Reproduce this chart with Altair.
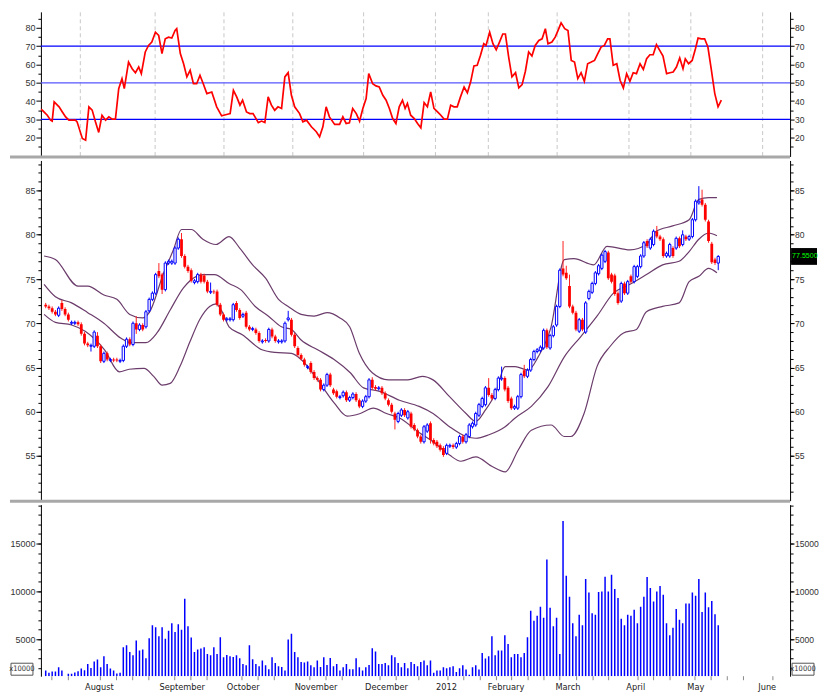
import altair as alt
import pandas as pd

# ---------------- data ----------------
# x positions are trading-day indices; month boundaries at these indices
month_pos = [11.84, 34.86, 55.68, 76.68, 98.48, 120.4, 136.44, 157.35, 179.27, 198.14, 220.06]
month_names = ["August", "September", "October", "November", "December", "2012",
               "February", "March", "April", "May", "June"]
week_ticks = [1.9, 7.0, 16.9, 21.9, 26.9, 31.9, 39.9, 44.9, 49.9, 60.7, 65.7, 70.7,
              81.7, 86.7, 91.7, 103.4, 108.4, 115.4, 124.4, 129.3, 134.4, 139.4, 144.1,
              149.2, 154.1, 159.0, 164.2, 169.3, 174.1, 183.2, 188.0, 193.1, 200.8,
              205.8, 210.8, 215.8, 224.9]

opens = [72.1, 71.9, 71.7, 71.3, 70.9, 72.3, 71.6, 71.0, 70.0, 70.0,
         70.1, 69.9, 68.8, 67.7, 67.4, 67.4, 68.6, 67.4, 65.7, 66.6,
         65.8, 65.9, 65.9, 65.7, 65.8, 67.4, 68.2, 67.6, 70.0, 69.3,
         69.8, 69.6, 71.4, 72.7, 73.4, 75.9, 75.5, 73.8, 76.8, 76.8,
         76.8, 78.5, 79.5, 77.6, 76.4, 76.0, 74.6, 74.7, 75.5, 75.4,
         74.7, 73.5, 73.6, 73.6, 72.1, 71.0, 70.4, 70.4, 70.4, 72.3,
         71.5, 70.8, 71.2, 69.6, 69.3, 69.3, 68.9, 67.9, 68.1, 68.0,
         69.3, 68.5, 67.9, 67.9, 68.0, 70.4, 70.4, 68.7, 67.2, 66.4,
         65.9, 65.0, 65.5, 64.5, 63.8, 63.6, 62.5, 63.0, 64.2, 62.5,
         62.3, 61.6, 61.8, 62.2, 61.3, 61.6, 62.0, 61.3, 60.6, 61.2,
         61.7, 63.6, 62.8, 62.6, 62.7, 62.1, 61.3, 60.8, 59.8, 58.9,
         59.6, 60.2, 59.3, 59.8, 58.5, 57.9, 57.2, 56.6, 57.8, 58.7,
         56.8, 56.6, 56.2, 55.9, 55.3, 56.1, 56.2, 56.0, 56.4, 57.2,
         56.6, 57.2, 58.3, 58.5, 59.6, 60.6, 60.8, 62.7, 61.9, 61.5,
         62.5, 63.7, 63.8, 62.7, 61.5, 60.4, 60.4, 61.7, 64.7, 64.0,
         64.7, 65.9, 66.8, 66.9, 67.2, 69.2, 67.2, 68.6, 69.8, 71.9,
         76.2, 75.7, 74.2, 71.9, 71.2, 69.1, 70.4, 69.0, 72.8, 73.5,
         74.5, 75.6, 76.2, 77.0, 78.0, 75.5, 75.4, 73.4, 72.5, 74.5,
         73.4, 75.3, 74.7, 75.3, 76.4, 77.6, 79.3, 78.5, 78.9, 80.4,
         79.8, 79.5, 77.6, 77.6, 78.5, 78.5, 79.6, 78.9, 79.8, 79.5,
         79.8, 81.7, 83.6, 84.0, 83.4, 81.5, 79.0, 77.2, 76.8]

closes = [71.9, 71.7, 71.3, 71.0, 71.7, 71.6, 71.0, 70.4, 70.1, 70.1,
          69.9, 68.8, 67.7, 67.5, 67.5, 69.0, 67.4, 65.7, 66.6, 65.9,
          65.9, 65.8, 65.8, 65.8, 67.4, 68.2, 67.6, 70.0, 69.3, 69.8,
          69.3, 71.3, 72.7, 73.4, 75.5, 75.3, 73.8, 76.8, 77.0, 77.0,
          78.5, 79.5, 77.6, 76.4, 75.9, 74.8, 74.8, 75.5, 74.7, 74.7,
          73.6, 73.6, 73.5, 72.1, 71.0, 70.4, 70.5, 70.5, 72.1, 71.5,
          70.6, 71.0, 69.6, 69.3, 69.4, 68.9, 68.0, 68.0, 68.0, 69.3,
          68.5, 68.0, 68.0, 68.0, 70.0, 70.6, 68.7, 67.4, 66.4, 66.0,
          65.3, 65.1, 64.5, 63.8, 63.6, 62.5, 63.0, 64.2, 63.0, 62.1,
          61.7, 61.7, 62.2, 61.3, 61.6, 62.0, 61.3, 60.6, 61.2, 61.7,
          63.6, 62.7, 62.6, 62.7, 62.1, 61.5, 60.8, 60.0, 59.1, 59.8,
          60.2, 59.6, 60.0, 58.3, 58.0, 57.2, 56.6, 58.3, 58.5, 56.8,
          56.4, 56.1, 55.7, 55.1, 56.2, 56.2, 56.0, 56.4, 57.2, 56.6,
          57.4, 58.5, 58.7, 59.8, 60.8, 61.5, 62.7, 61.9, 61.5, 62.5,
          63.8, 63.8, 62.5, 61.2, 60.4, 60.6, 61.7, 64.2, 64.0, 64.7,
          65.9, 66.8, 67.0, 67.3, 69.2, 67.3, 68.6, 69.6, 71.9, 76.0,
          75.5, 75.1, 71.9, 71.2, 69.3, 70.4, 69.3, 72.3, 73.6, 74.5,
          75.7, 76.5, 77.7, 78.1, 75.1, 74.7, 73.3, 72.3, 74.5, 73.4,
          74.7, 74.7, 76.4, 76.4, 77.6, 79.1, 78.7, 79.5, 80.4, 79.8,
          79.5, 77.6, 77.9, 78.9, 77.6, 79.6, 78.7, 80.0, 79.5, 79.8,
          81.7, 83.8, 83.8, 83.4, 81.7, 79.3, 76.9, 76.8, 77.55]

highs = [72.3, 72.1, 71.9, 71.5, 71.9, 72.6, 71.8, 71.2, 70.3, 70.3,
         70.3, 70.1, 69.0, 67.9, 67.7, 69.2, 69.0, 67.6, 66.8, 66.8,
         66.1, 66.1, 66.1, 66.0, 67.6, 68.4, 68.4, 70.2, 70.8, 70.0,
         70.0, 71.5, 72.9, 73.6, 75.7, 76.8, 75.7, 77.0, 77.2, 77.2,
         78.7, 79.7, 80.2, 77.8, 76.6, 76.2, 75.0, 75.7, 75.7, 75.6,
         74.9, 74.6, 73.8, 73.8, 72.3, 71.2, 70.7, 70.7, 72.3, 72.5,
         71.7, 71.2, 71.4, 69.8, 69.6, 69.5, 69.1, 68.2, 68.3, 69.5,
         69.5, 68.7, 68.2, 68.2, 70.2, 71.4, 70.6, 68.9, 67.4, 66.6,
         66.1, 65.3, 65.7, 64.7, 64.0, 63.8, 63.2, 64.4, 64.4, 62.7,
         62.5, 61.9, 62.4, 62.4, 61.8, 62.2, 62.2, 61.5, 61.4, 61.9,
         63.8, 63.9, 63.0, 62.9, 62.9, 62.3, 61.5, 61.0, 60.0, 60.0,
         60.4, 60.4, 60.2, 60.0, 58.7, 58.1, 57.4, 58.5, 58.7, 58.9,
         57.0, 56.8, 56.4, 56.1, 56.4, 56.4, 56.4, 56.6, 57.4, 57.4,
         57.6, 58.7, 58.9, 60.0, 61.0, 61.7, 62.9, 63.8, 62.1, 62.7,
         64.0, 65.1, 64.0, 62.9, 61.7, 60.8, 61.9, 64.4, 65.3, 64.9,
         66.1, 67.0, 67.2, 67.5, 69.4, 69.4, 68.8, 69.8, 72.1, 76.2,
         79.3, 76.5, 75.5, 72.1, 71.4, 70.6, 70.6, 72.5, 73.8, 74.7,
         75.9, 76.7, 77.9, 78.3, 78.2, 75.7, 75.6, 73.6, 74.7, 74.7,
         74.9, 75.5, 76.6, 76.6, 77.8, 79.3, 79.5, 79.7, 80.6, 81.0,
         80.0, 79.7, 78.1, 79.1, 78.7, 79.8, 79.8, 80.5, 80.0, 80.0,
         81.9, 84.0, 85.5, 85.1, 83.6, 81.7, 79.2, 77.4, 77.7]

lows = [71.7, 71.5, 71.1, 70.8, 70.7, 71.4, 70.8, 70.2, 69.8, 69.8,
        69.7, 68.6, 67.5, 67.3, 66.8, 67.2, 67.2, 65.5, 65.5, 65.7,
        65.6, 65.6, 65.6, 65.5, 65.6, 67.2, 67.4, 67.4, 68.8, 69.1,
        69.1, 69.4, 71.2, 72.5, 73.2, 75.1, 73.3, 73.6, 76.6, 76.6,
        76.6, 78.3, 77.4, 76.2, 75.7, 74.6, 74.4, 74.5, 74.5, 74.5,
        73.4, 73.3, 73.3, 71.9, 70.8, 70.2, 70.2, 70.2, 70.2, 71.3,
        70.4, 70.6, 69.4, 69.1, 69.1, 68.7, 67.8, 67.7, 67.8, 67.8,
        68.3, 67.8, 67.7, 67.7, 67.8, 70.2, 68.5, 67.2, 66.2, 65.8,
        65.1, 64.8, 64.3, 63.6, 63.4, 62.3, 62.3, 62.8, 62.8, 61.9,
        61.5, 61.4, 61.6, 61.1, 61.1, 61.4, 61.1, 60.4, 60.4, 61.0,
        61.5, 62.5, 62.4, 62.4, 61.9, 61.3, 60.6, 59.8, 58.0, 58.7,
        59.4, 59.4, 59.1, 58.1, 57.8, 57.0, 56.4, 56.4, 57.6, 56.4,
        56.2, 55.9, 55.5, 54.9, 55.1, 55.9, 55.8, 55.8, 56.2, 56.4,
        56.4, 57.0, 58.1, 58.3, 59.4, 60.4, 60.6, 61.7, 61.3, 61.3,
        62.3, 63.5, 62.3, 61.0, 60.2, 60.2, 60.2, 61.5, 63.8, 63.8,
        64.5, 65.7, 66.6, 66.7, 67.0, 67.1, 67.0, 68.4, 69.6, 71.7,
        75.3, 74.9, 71.7, 71.0, 69.1, 68.9, 69.1, 68.8, 72.6, 73.3,
        74.3, 75.4, 76.0, 76.8, 74.9, 74.5, 73.1, 72.1, 72.3, 73.2,
        73.2, 74.5, 74.5, 75.1, 76.2, 77.4, 78.5, 78.3, 78.7, 79.6,
        79.3, 77.4, 77.4, 77.4, 77.4, 78.3, 78.5, 78.7, 79.3, 79.3,
        79.6, 81.5, 83.4, 83.2, 81.5, 79.1, 76.7, 76.6, 76.0]

volume = [1736, 1493, 1632, 1632, 2083, 1736, None, 1389, 1389, 1528,
          1667, 1944, 1771, 2431, 2014, 2674, 2882, 2083, 3229, 2431,
          1944, 1736, 1424, 1493, 4167, 4375, 3681, 3333, 4861, 3819,
          3924, 3021, 5104, 6458, 6250, 5312, 6250, 5069, 5903, 6667,
          5764, 6562, 6007, 9236, 6354, 5174, 3681, 3924, 4028, 4167,
          3472, 3333, 4167, 3472, 5208, 3125, 3368, 3229, 3160, 3333,
          3021, 2431, 2292, 4375, 2917, 2431, 2188, 2778, 2292, 1875,
          3125, 2535, 2188, 2118, 1736, 4965, 5590, 3681, 3125, 2639,
          2569, 2674, 2292, 2083, 2778, 2118, 3125, 2326, 3056, 2188,
          2431, 1736, 2083, 2431, 1875, 1875, 3014, 2083, 1736, 2083,
          2326, 4062, 3715, 2431, 2431, 2535, 2292, 3333, 3125, 2535,
          2083, 2535, 1979, 2639, 2431, 2188, 2639, 2778, 2292, 2778,
          1493, 1736, 1736, 2083, 1979, 2083, 2188, 1597, 1979, 2292,
          1840, 1285, 2083, 2292, 1840, 3576, 2986, 3229, 5312, 3333,
          3819, 3819, 5417, 4514, 3125, 3472, 3472, 3125, 3576, 5208,
          7986, 6944, 7465, 8403, 7257, 13333, 8299, 6354, 7257, 3472,
          17361, 11632, 9444, 6667, 5312, 7569, 6458, 11285, 9896, 7708,
          7569, 9931, 10000, 11528, 10000, 11736, 10243, 9305, 7153, 6458,
          7569, 7465, 8090, 6667, 8403, 9444, 11493, 10347, 8958, 10000,
          10555, 9653, 6667, 5417, 6215, 8160, 7049, 6667, 8750, 8750,
          9896, 9549, 11285, 7847, 9896, 8333, 8993, 7604, 6458]

rsi_day = [-0.5, 0.5, 2.0, 3.0, 3.5, 4.1, 5.6, 6.6, 7.6, 8.6,
           10.6, 11.1, 12.7, 13.7, 14.7, 15.7, 16.7, 17.7, 18.7, 19.8,
           20.8, 21.8, 22.8, 23.8, 24.8, 25.5, 26.8, 27.9, 28.9, 29.9,
           30.7, 31.9, 32.9, 33.9, 35.0, 36.0, 37.0, 38.0, 39.0, 40.0,
           41.0, 41.5, 42.6, 43.6, 44.6, 45.6, 46.6, 47.6, 48.6, 49.6,
           50.7, 52.2, 53.7, 55.2, 56.7, 57.8, 58.8, 59.8, 60.8, 61.6,
           62.8, 63.8, 64.8, 66.4, 67.4, 68.4, 69.4, 70.4, 71.4, 72.4,
           73.5, 74.5, 75.5, 76.5, 77.5, 79.0, 80.0, 81.1, 82.6, 84.1,
           85.1, 86.1, 87.1, 88.1, 89.7, 91.2, 92.2, 93.2, 94.2, 95.2,
           96.3, 97.3, 98.3, 99.3, 100.1, 101.3, 102.3, 103.3, 104.4, 105.4,
           106.4, 107.4, 108.4, 109.4,
           110.4, 111.2, 111.9, 112.9, 114.0, 115.0, 116.0, 117.0, 118.0, 119.0,
           120.0, 121.1, 122.1, 123.1, 124.1, 125.1, 126.1, 127.1, 128.1, 129.2,
           130.2, 131.2, 132.2, 133.2, 134.2, 135.2, 135.9, 137.0, 138.0, 139.0,
           140.0, 141.0, 141.8, 142.8, 143.8, 144.9, 145.9, 146.9, 147.9, 148.9,
           149.9, 150.9, 152.0, 153.0, 154.0, 154.8, 156.0, 157.0, 158.0, 158.8,
           159.9, 160.9, 161.9, 162.9, 163.9, 164.9, 165.9, 166.9, 168.0, 169.0,
           170.0, 171.0, 172.0, 173.0, 173.7, 174.7, 175.8, 176.8, 177.8, 178.8,
           179.8, 180.8, 181.8, 182.9, 183.9, 184.9, 185.9, 186.9, 187.9, 188.9,
           189.9, 191.0, 192.0, 193.0, 194.0, 195.0, 196.0, 196.7, 197.7, 198.8,
           199.8, 200.6, 201.6, 202.6, 203.6, 204.6, 205.7, 206.7, 207.7]
rsi_val = [36.0, 35.0, 32.3, 29.6, 29.1, 39.6, 36.9, 34.1, 31.4, 29.6,
           29.6, 28.7, 19.6, 18.7, 36.9, 35.1, 28.7, 22.9, 32.3, 29.6,
           31.4, 30.2, 30.2, 46.8, 52.3, 46.8, 61.3, 57.7, 55.5, 58.6,
           55.0, 66.8, 70.4, 72.2, 77.6, 75.8, 65.9, 74.0, 74.9, 74.4,
           78.5, 79.5, 65.9, 60.4, 53.2, 56.8, 49.5, 49.5, 54.1, 49.5,
           44.1, 45.0, 36.9, 32.0, 32.7, 33.2, 45.9, 42.3, 37.8, 40.5,
           34.1, 33.2, 33.2, 28.3, 29.1, 28.3, 42.3, 37.8, 35.0, 36.9,
           36.0, 53.2, 55.5, 43.2, 36.9, 33.2, 28.7, 29.6, 26.0, 23.3,
           20.5, 26.0, 36.9, 31.4, 27.3, 27.3, 31.4, 27.8, 28.2, 36.0,
           33.2, 29.1, 36.0, 41.4, 55.0, 49.5, 48.3, 47.7, 43.2, 40.5,
           36.0, 30.5, 27.8, 36.9,
           40.5, 36.0, 38.7, 32.3, 30.5, 27.8, 25.4, 39.2, 36.9, 45.0,
           36.0, 34.1, 32.3, 30.2, 30.2, 37.8, 36.9, 36.9, 42.3, 47.7,
           44.5, 50.5, 59.2, 59.5, 65.0, 71.3, 70.4, 77.6, 71.3, 68.0,
           72.2, 76.6, 76.6, 64.0, 53.2, 55.5, 47.2, 49.0, 56.3, 66.8,
           64.6, 70.4, 73.1, 74.0, 79.5, 71.3, 72.2, 74.9, 79.1, 82.7,
           79.5, 78.5, 62.2, 61.3, 52.3, 55.5, 50.8, 60.4, 61.3, 62.2,
           65.9, 69.5, 70.4, 74.0, 74.0, 59.5, 60.4, 51.4, 47.2, 55.0,
           50.8, 55.5, 55.0, 60.4, 57.3, 63.1, 65.3, 65.3, 70.8, 67.7,
           64.6, 55.0, 55.5, 55.9, 58.6, 63.5, 57.7, 63.1, 60.4, 62.2,
           68.6, 74.4, 74.0, 74.0, 69.5, 57.7, 44.1, 36.9, 40.5]

bb_upper_day = [-0.5, 3, 10, 13, 18, 22, 26, 30, 32, 36.5, 39.5, 42, 45, 48.6, 52.7,
                56.7, 60, 64, 68, 72, 75, 79, 83, 87, 91, 94, 97, 101, 106, 112,
                116.5, 119.8, 124.9, 130, 133, 136, 139.1, 142.1, 145.2, 149.2,
                152.3, 156.3, 160.4, 163.4, 169.5, 173.6, 180.7, 185.8, 188.8,
                193.9, 199, 202, 205, 207.6]
bb_upper = [77.6, 77.2, 74.2, 74.2, 73.2, 72.7, 71.0, 70.6, 71.2, 75.7, 78.3, 80.6, 80.6,
            79.5, 78.9, 79.8, 78.5, 76.6, 75.1, 72.7, 71.9, 71.0, 70.8, 71.2, 70.6, 69.6,
            66.6, 64.4, 63.6, 63.6, 64.0, 63.6, 61.7, 59.8, 58.9, 60.2, 62.1, 65.1, 65.1,
            64.7, 66.2, 69.6, 77.2, 77.3, 76.6, 78.7, 78.3, 78.9, 80.4, 81.0, 81.7, 84.0,
            84.2, 84.2]
bb_mid_day = [-0.5, 3, 8, 13, 18, 23.3, 26.3, 31, 34.4, 38.5, 42.6, 46.6, 48.6, 52.2,
              56.7, 60.3, 64.8, 68.9, 72.9, 76, 79, 84.1, 89.2, 94.2, 98.3, 103.3,
              109.4, 115.5, 119.8, 124.9, 130, 133, 137.1, 142.1, 145.2, 150.2, 155.3,
              160.4, 165.5, 170.5, 175.6, 180.7, 185.8, 190.8, 195.9, 199, 202, 205, 207.6]
bb_mid = [74.4, 73.0, 72.3, 71.2, 70.0, 68.3, 67.8, 67.8, 68.9, 71.5, 74.0, 75.3, 75.5,
          75.5, 74.5, 73.8, 71.9, 70.8, 69.6, 69.3, 68.1, 67.0, 65.9, 64.4, 62.7, 62.3,
          61.3, 60.6, 59.8, 58.3, 57.2, 57.0, 57.4, 58.3, 59.3, 60.6, 62.8, 66.2, 68.5,
          70.8, 73.4, 74.4, 75.5, 76.6, 77.0, 78.1, 79.5, 80.2, 79.9]
bb_lower_day = [-0.5, 3, 8, 12.2, 18.2, 22.8, 25.8, 30.4, 33.4, 36, 38.5, 41.5, 44.6,
                47.6, 50.7, 52.7, 54.7, 56.7, 60.8, 66.9, 70.9, 76, 79, 84.1, 89.2,
                93.2, 97.3, 101.3, 105.4, 109.4, 115.7, 119.8, 124.9, 128.4, 133,
                138.1, 142.1, 146.2, 150.2, 156.3, 160.4, 162.4, 166.5, 170.5, 174.6,
                178.7, 182.7, 185.8, 190.8, 195.9, 199, 202, 205, 207.6]
bb_lower = [71.0, 70.1, 69.8, 69.1, 67.0, 64.5, 64.8, 64.9, 64.0, 63.0, 63.2, 65.1, 67.9,
            70.4, 71.9, 72.2, 71.2, 69.6, 68.7, 67.0, 66.7, 66.6, 65.9, 63.6, 61.0, 59.5,
            59.8, 60.4, 59.8, 59.3, 57.6, 56.6, 55.1, 54.4, 54.9, 53.8, 53.2, 55.7, 57.9,
            58.5, 57.2, 57.2, 59.8, 65.1, 67.4, 68.9, 69.3, 71.3, 71.9, 72.3, 74.7, 75.3,
            76.2, 75.7]

rsi_levels = [30, 50, 70]
rsi_level_colors = ["#0000ff", "#5656ff", "#0000ff"]
rsi_ticks = [20, 30, 40, 50, 60, 70, 80]
price_ticks = [55, 60, 65, 70, 75, 80, 85]
vol_ticks = [5000, 10000, 15000]
last_close = 77.55
last_close_text = "77.5500"
vol_unit_text = "x10000"

# ---------------- layout ----------------
W = 751
H_RSI, H_PX, H_VOL = 145, 341, 172
X_DOM = [0.06, 0.06 + W / 3.285]
RSI_DOM = [9.8, 88.7]
PX_DOM = [49.95, 88.4]
VOL_DOM = [1146, 19062]
FONT = "Liberation Sans"
COND = "DejaVu Sans Condensed, Liberation Sans"
LABEL_COLOR = "#333333"
GRID_COLOR = "#c8c8c8"
BAND_COLOR = "#6b3c6b"
SEP_COLOR = "#a8a8a8"

candles = pd.DataFrame({"i": list(range(len(closes))), "o": opens, "c": closes,
                        "h": highs, "l": lows})
candles["dir"] = ["up" if c >= o else "down" for o, c in zip(opens, closes)]
vol_df = pd.DataFrame({"i": list(range(len(volume))), "vol": volume}).dropna()
rsi_df = pd.DataFrame({"i": rsi_day, "v": rsi_val})
up_df = pd.DataFrame({"i": bb_upper_day, "v": bb_upper})
mid_df = pd.DataFrame({"i": bb_mid_day, "v": bb_mid})
low_df = pd.DataFrame({"i": bb_lower_day, "v": bb_lower})
lvl_df = pd.DataFrame({"lvl": rsi_levels, "col": rsi_level_colors})
week_df = pd.DataFrame({"i": week_ticks})
month_df = pd.DataFrame({"i": month_pos, "name": month_names})

XSCALE = alt.Scale(domain=X_DOM, nice=False, zero=False)


def xs(axis=None, field="i"):
    return alt.X(f"{field}:Q", scale=XSCALE, axis=axis)


def ys(field, dom, axis=None):
    return alt.Y(f"{field}:Q", scale=alt.Scale(domain=dom, nice=False, zero=False), axis=axis)


top_x_axis = alt.Axis(values=month_pos, grid=True, gridColor=GRID_COLOR, gridDash=[4, 3],
                      labels=False, ticks=False, domain=False, title=None)
bottom_x_axis = alt.Axis(values=month_pos, grid=True, gridColor=GRID_COLOR, gridDash=[4, 3],
                         labels=False, tickColor="#000000", tickSize=5,
                         domainColor="#000000", title=None)


def axis_layers(dom, major, minor):
    base = alt.Chart(pd.DataFrame({"v": [dom[0]]})).mark_point(opacity=0)
    common = dict(title=None, grid=False, tickColor="#000000", domainColor="#000000")
    return [
        base.encode(y=ys("v", dom, alt.Axis(orient="left", values=major, tickSize=5,
                                            labelPadding=1, labelFont=FONT, labelFontSize=9,
                                            labelColor=LABEL_COLOR, format="d", **common))),
        base.encode(y=ys("v", dom, alt.Axis(orient="left", values=minor, tickSize=3,
                                            labels=False, domain=False, **common))),
        base.encode(y=ys("v", dom, alt.Axis(orient="right", values=major, tickSize=4,
                                            labelAlign="left", labelPadding=0.5,
                                            labelFont=FONT, labelFontSize=8.6,
                                            labelColor=LABEL_COLOR, format="d", **common))),
        base.encode(y=ys("v", dom, alt.Axis(orient="right", values=minor, tickSize=3,
                                            labels=False, domain=False, **common))),
    ]


def separator(h):
    return alt.Chart(pd.DataFrame({"s": [0]})).mark_rule(color=SEP_COLOR, strokeWidth=3).encode(
        x=alt.value(-31), x2=alt.value(W), y=alt.value(h + 0.5))


# ---------------- RSI panel ----------------
rsi_levels_layer = alt.Chart(lvl_df).mark_rule(strokeWidth=1.3).encode(
    y=ys("lvl", RSI_DOM), color=alt.Color("col:N", scale=None))
rsi_line = alt.Chart(rsi_df).mark_line(color="#ff0000", strokeWidth=1.7, clip=True).encode(
    x=xs(top_x_axis), y=ys("v", RSI_DOM))
rsi_panel = alt.layer(
    *axis_layers(RSI_DOM, rsi_ticks, [15, 25, 35, 45, 55, 65, 75, 85]),
    rsi_levels_layer, rsi_line, separator(H_RSI),
).resolve_scale(y="independent").properties(width=W, height=H_RSI)

# ---------------- price panel ----------------
band_layers = [alt.Chart(d).mark_line(color=BAND_COLOR, strokeWidth=1.2, interpolate="monotone",
                                      clip=True).encode(x=xs(), y=ys("v", PX_DOM))
               for d in (up_df, mid_df, low_df)]
wicks = alt.Chart(candles).mark_rule(strokeWidth=1, clip=True).encode(
    x=xs(top_x_axis), y=ys("l", PX_DOM), y2="h",
    color=alt.Color("dir:N", scale=alt.Scale(domain=["up", "down"], range=["#0000ff", "#ff2020"]),
                    legend=None))
body_down = alt.Chart(candles).transform_filter("datum.dir == 'down'").mark_bar(
    size=2.8, color="#ff0000", clip=True).encode(x=xs(), y=ys("o", PX_DOM), y2="c")
body_up = alt.Chart(candles).transform_filter("datum.dir == 'up'").mark_bar(
    size=2.3, fill="#ffffff", stroke="#0000ff", strokeWidth=1, clip=True).encode(
    x=xs(), y=ys("o", PX_DOM), y2="c")
PXS = alt.Scale(domain=PX_DOM, nice=False, zero=False)
last_box = alt.Chart(pd.DataFrame({"t": [last_close_text]})).mark_rect(color="#000000").encode(
    x=alt.value(W + 1), x2=alt.value(W + 27),
    y=alt.YDatum(last_close + 0.95, scale=PXS, axis=None),
    y2=alt.Y2Datum(last_close - 0.95))
last_text = alt.Chart(pd.DataFrame({"t": [last_close_text]})).mark_text(
    align="left", baseline="middle", color="#00ff00", font=FONT, fontSize=7.1).encode(
    x=alt.value(W + 2), y=alt.YDatum(last_close, scale=PXS, axis=None), text="t:N")
price_panel = alt.layer(
    *axis_layers(PX_DOM, price_ticks, list(range(51, 89))),
    *band_layers, wicks, body_down, body_up, last_box, last_text, separator(H_PX),
).resolve_scale(y="independent").properties(width=W, height=H_PX)

# ---------------- volume panel ----------------
vol_bars = alt.Chart(vol_df).mark_bar(size=1.5, color="#0000ff", clip=True).encode(
    x=xs(bottom_x_axis), y=ys("vol", VOL_DOM), y2=alt.datum(VOL_DOM[0]))
week_layer = alt.Chart(week_df).mark_rule(color="#8a8a8a").encode(
    x=xs(), y=alt.value(H_VOL), y2=alt.value(H_VOL + 4))
month_text = alt.Chart(month_df).mark_text(
    align="left", baseline="top", font=COND, fontSize=9.2, color="#222222", dx=1).encode(
    x=xs(), y=alt.value(H_VOL + 7), text="name:N")
unit_df = pd.DataFrame({"t": [vol_unit_text]})
unit_layers = []
for x0 in (-30, W + 2):
    unit_layers.append(alt.Chart(unit_df).mark_rect(fill="#ffffff", stroke="#555555",
                                                   strokeWidth=1).encode(
        x=alt.value(x0), x2=alt.value(x0 + 22), y=alt.value(H_VOL - 13), y2=alt.value(H_VOL - 1)))
    unit_layers.append(alt.Chart(unit_df).mark_text(font=COND, fontSize=7.5, color="#333333",
                                                   align="center", baseline="middle").encode(
        x=alt.value(x0 + 11), y=alt.value(H_VOL - 7), text="t:N"))
vol_panel = alt.layer(
    *axis_layers(VOL_DOM, vol_ticks, list(range(2000, 19001, 1000))),
    vol_bars, week_layer, month_text, *unit_layers,
).resolve_scale(y="independent").properties(width=W, height=H_VOL)

chart = alt.vconcat(rsi_panel, price_panel, vol_panel, spacing=1).properties(
    padding={"left": 0, "top": 3, "right": 0, "bottom": 0}
).configure_view(stroke=None)

chart.save("out.html", embed_options={"renderer": "svg", "actions": False})
